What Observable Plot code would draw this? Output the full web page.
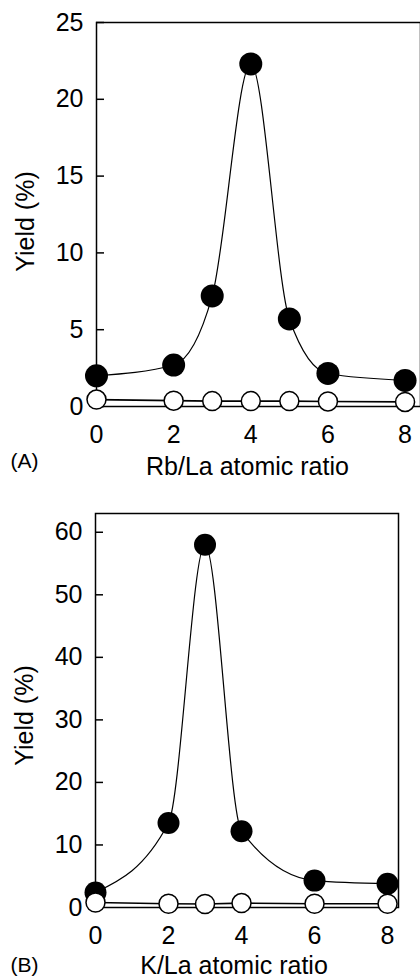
<!DOCTYPE html>
<html>
<head>
<meta charset="utf-8">
<script src="https://cdn.jsdelivr.net/npm/d3@7"></script>
<script src="https://cdn.jsdelivr.net/npm/@observablehq/plot@0.6"></script>
<style>
  html, body { margin: 0; padding: 0; background: white; }
  #chart svg { display: block; }
</style>
</head>
<body>
<div id="chart"></div>
<script>
// Panel A: Rb/La
const ratioA = [0, 2, 3, 4, 5, 6, 8];
const filledA = [2.0, 2.7, 7.2, 22.3, 5.7, 2.15, 1.7];
const hollowA = [0.45, 0.38, 0.35, 0.35, 0.35, 0.33, 0.3];
const yTicksA = [0, 5, 10, 15, 20, 25];

// Panel B: K/La
const ratioB = [0, 2, 3, 4, 6, 8];
const filledB = [2.4, 13.5, 58, 12.2, 4.3, 3.8];
const hollowB = [0.8, 0.6, 0.55, 0.7, 0.6, 0.6];
const yTicksB = [0, 10, 20, 30, 40, 50, 60];

const xTicks = [0, 2, 4, 6, 8];

function panel(o) {
  const filledRows = o.ratio.map((x, i) => ({x, y: o.filled[i]}));
  const hollowRows = o.ratio.map((x, i) => ({x, y: o.hollow[i]}));
  return Plot.plot({
    width: 420,
    height: o.height,
    marginLeft: o.marginLeft,
    marginRight: o.marginRight,
    marginTop: o.marginTop,
    marginBottom: o.marginBottom,
    style: {fontFamily: "'Liberation Sans', Arial, sans-serif", fontSize: "25px", color: "black", background: "white"},
    x: {domain: o.xDomain},
    y: {domain: o.yDomain},
    marks: [
      Plot.axisX(xTicks, {tickSize: 0, tickPadding: 19, fontSize: 25, label: null}),
      Plot.axisY(o.yTicks, {tickSize: 0, tickPadding: 13, fontSize: 25, label: null}),
      Plot.axisY(o.yTicks, {tickSize: 8, dx: 8, tickFormat: () => "", label: null, strokeWidth: 1.5}),
      Plot.frame({stroke: "black", strokeWidth: 1.5}),
      Plot.line(filledRows, {x: "x", y: "y", curve: "monotone-x", stroke: "black", strokeWidth: 1.2}),
      Plot.line(hollowRows, {x: "x", y: "y", stroke: "black", strokeWidth: 1.6}),
      Plot.dot(filledRows, {x: "x", y: "y", r: o.rFilled, fill: "black"}),
      Plot.dot(hollowRows, {x: "x", y: "y", r: 9.5, fill: "white", stroke: "black", strokeWidth: 1.5}),
      Plot.text([o.xLabel], {frameAnchor: "bottom", textAnchor: "middle", lineAnchor: "top", dy: o.labelDy, dx: o.labelDx, fontSize: 25}),
      Plot.text([o.tag], {frameAnchor: "bottom-left", textAnchor: "start", lineAnchor: "top", dy: o.tagDy, dx: o.tagDx, fontSize: 21}),
      Plot.text(["Yield (%)"], {frameAnchor: "left", textAnchor: "middle", rotate: -90, dx: -71, dy: o.ylabelDy, fontSize: 25})
    ]
  });
}

const chart = document.getElementById("chart");
chart.appendChild(panel({
  ratio: ratioA, filled: filledA, hollow: hollowA, yTicks: yTicksA,
  xDomain: [0, 8.4], yDomain: [0, 25],
  height: 490, marginLeft: 96, marginRight: 0, marginTop: 22, marginBottom: 84,
  xLabel: "Rb/La atomic ratio", tag: "(A)", labelDx: -11, labelDy: 51,
  tagDx: -86, tagDy: 47, ylabelDy: 7, rFilled: 11.5
}));
chart.appendChild(panel({
  ratio: ratioB, filled: filledB, hollow: hollowB, yTicks: yTicksB,
  xDomain: [0, 8.3], yDomain: [0, 63],
  height: 488, marginLeft: 95, marginRight: 22, marginTop: 23, marginBottom: 71,
  xLabel: "K/La atomic ratio", tag: "(B)", labelDx: -13, labelDy: 49,
  tagDx: -85, tagDy: 50, ylabelDy: 5, rFilled: 11
}));
</script>
</body>
</html>
